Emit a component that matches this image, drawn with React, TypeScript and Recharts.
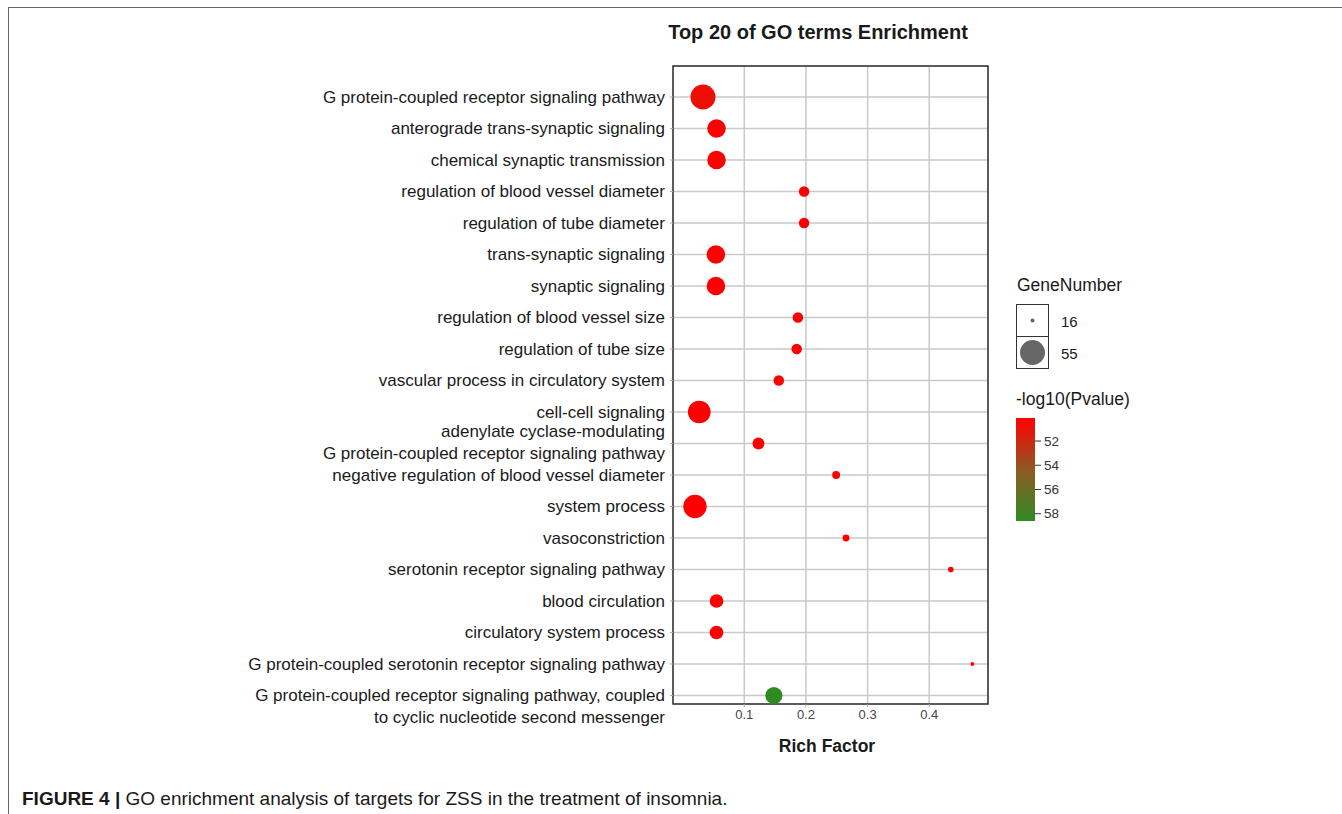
import React from 'react';
import {
  CartesianGrid,
  Cell,
  ReferenceArea,
  Scatter,
  ScatterChart,
  XAxis,
  YAxis,
  ZAxis,
} from 'recharts';

const terms: string[] = [
  'G protein-coupled receptor signaling pathway',
  'anterograde trans-synaptic signaling',
  'chemical synaptic transmission',
  'regulation of blood vessel diameter',
  'regulation of tube diameter',
  'trans-synaptic signaling',
  'synaptic signaling',
  'regulation of blood vessel size',
  'regulation of tube size',
  'vascular process in circulatory system',
  'cell-cell signaling',
  'adenylate cyclase-modulating\nG protein-coupled receptor signaling pathway',
  'negative regulation of blood vessel diameter',
  'system process',
  'vasoconstriction',
  'serotonin receptor signaling pathway',
  'blood circulation',
  'circulatory system process',
  'G protein-coupled serotonin receptor signaling pathway',
  'G protein-coupled receptor signaling pathway, coupled\nto cyclic nucleotide second messenger',
];

const richFactor: number[] = [
  0.033, 0.055, 0.055, 0.197, 0.197, 0.054, 0.054, 0.187, 0.185, 0.156,
  0.027, 0.123, 0.249, 0.02, 0.265, 0.435, 0.055, 0.055, 0.47, 0.148,
];

const geneNumber: number[] = [
  55, 37, 37, 22, 22, 37, 37, 22, 22, 22, 48, 24, 19, 50, 18, 17, 27, 27, 16, 34,
];

const negLog10P: number[] = [
  50.8, 50.1, 50.1, 50.1, 50.1, 50.1, 50.1, 50.1, 50.1, 50.1,
  50.1, 50.1, 50.1, 50.1, 50.1, 50.1, 50.1, 50.1, 50.1, 58.6,
];

const xTicks = [0.1, 0.2, 0.3, 0.4];
const colorTicks = [52, 54, 56, 58];
const sizeBreaks = [16, 55];

const X_DOMAIN: [number, number] = [-0.0156, 0.4953];
const Y_DOMAIN: [number, number] = [-0.985, 19.27];
const P_MIN = 50.1;
const P_MAX = 58.6;
const SIZE_RANGE: [number, number] = [Math.PI * 2 * 2, Math.PI * 12.5 * 12.5];

const FONT = '"Liberation Sans", Arial, Helvetica, sans-serif';

// red -> brown -> forest green, close to ggplot's lab interpolation
const stops: [number, number, number][] = [
  [255, 0, 0],
  [143, 88, 35],
  [46, 139, 34],
];

function pColor(v: number): string {
  const t = Math.min(1, Math.max(0, (v - P_MIN) / (P_MAX - P_MIN)));
  const seg = t < 0.5 ? 0 : 1;
  const lt = t < 0.5 ? t / 0.5 : (t - 0.5) / 0.5;
  const a = stops[seg];
  const b = stops[seg + 1];
  const c = a.map((ch, i) => Math.round(ch + (b[i] - ch) * lt));
  return `rgb(${c[0]},${c[1]},${c[2]})`;
}

function sizeRadius(n: number): number {
  const area =
    SIZE_RANGE[0] +
    ((n - sizeBreaks[0]) / (sizeBreaks[1] - sizeBreaks[0])) * (SIZE_RANGE[1] - SIZE_RANGE[0]);
  return Math.sqrt(area / Math.PI);
}

const data = terms.map((term, i) => ({
  term,
  rank: i,
  rich: richFactor[i],
  genes: geneNumber[i],
  p: negLog10P[i],
}));

function TermTick(props: any): JSX.Element {
  const { x, y, payload } = props;
  const idx = payload.value as number;
  const lines = (terms[idx] ?? '').split('\n');
  const last = idx === terms.length - 1;
  const start = lines.length === 1 ? 0 : last ? 0 : -12;
  return (
    <g>
      {lines.map((line, k) => (
        <text
          key={k}
          x={x}
          y={y + start + k * 21.5}
          dy="0.35em"
          textAnchor="end"
          fontSize={17}
          fontFamily={FONT}
          fill="#1a1a1a"
        >
          {line}
        </text>
      ))}
    </g>
  );
}

export default function App(): JSX.Element {
  return (
    <div style={{ position: 'relative', width: 1342, height: 814, background: '#fff', fontFamily: FONT }}>
      <style>{'body{margin:0}'}</style>
      <div
        style={{
          position: 'absolute',
          left: 8,
          top: 7,
          width: 1334,
          height: 807,
          borderTop: '1.5px solid #666',
          borderLeft: '1.5px solid #666',
          boxSizing: 'border-box',
        }}
      />
      <div
        style={{
          position: 'absolute',
          left: 618,
          width: 400,
          top: 21,
          textAlign: 'center',
          fontSize: 20,
          fontWeight: 'bold',
          color: '#1a1a1a',
        }}
      >
        Top 20 of GO terms Enrichment
      </div>

      <div style={{ position: 'absolute', left: 0, top: 0 }}>
        <ScatterChart
          width={1342}
          height={814}
          margin={{ top: 66, right: 354, bottom: 80, left: 273 }}
        >
          <CartesianGrid stroke="#c9c9c9" strokeWidth={1.5} />
          <XAxis
            type="number"
            dataKey="rich"
            domain={X_DOMAIN}
            ticks={xTicks}
            allowDataOverflow
            height={30}
            axisLine={false}
            tickLine={{ stroke: '#aaa' }}
            tickSize={3}
            tickMargin={3}
            tick={{ fontSize: 13, fill: '#444', fontFamily: FONT }}
          />
          <YAxis
            type="number"
            dataKey="rank"
            reversed
            domain={Y_DOMAIN}
            ticks={terms.map((_, i) => i)}
            interval={0}
            allowDataOverflow
            width={400}
            axisLine={false}
            tickLine={{ stroke: '#aaa' }}
            tickSize={3}
            tickMargin={5}
            tick={<TermTick />}
          />
          <ZAxis type="number" dataKey="genes" domain={sizeBreaks} range={SIZE_RANGE} />
          <ReferenceArea
            x1={X_DOMAIN[0]}
            x2={X_DOMAIN[1]}
            y1={Y_DOMAIN[0]}
            y2={Y_DOMAIN[1]}
            fill="none"
            stroke="#333"
            strokeWidth={1.5}
          />
          <Scatter data={data} isAnimationActive={false}>
            {data.map((d, i) => (
              <Cell key={i} fill={pColor(d.p)} />
            ))}
          </Scatter>
        </ScatterChart>
      </div>

      <div
        style={{
          position: 'absolute',
          left: 727,
          width: 200,
          top: 736,
          textAlign: 'center',
          fontSize: 17.5,
          fontWeight: 'bold',
          color: '#1a1a1a',
        }}
      >
        Rich Factor
      </div>

      {/* size legend */}
      <div style={{ position: 'absolute', left: 1017, top: 275, fontSize: 17.5, color: '#1a1a1a' }}>
        GeneNumber
      </div>
      <svg style={{ position: 'absolute', left: 1010, top: 300 }} width={80} height={76}>
        {sizeBreaks.map((b, i) => (
          <g key={b}>
            <rect x={6.5} y={4.5 + i * 32} width={32} height={32} fill="#fff" stroke="#333" strokeWidth={1} />
            <circle cx={22.5} cy={20.5 + i * 32} r={sizeRadius(b)} fill="#666" />
            <text x={51} y={21.5 + i * 32} dy="0.35em" fontSize={15} fontFamily={FONT} fill="#1a1a1a">
              {b}
            </text>
          </g>
        ))}
      </svg>

      {/* colour legend */}
      <div style={{ position: 'absolute', left: 1016, top: 389, fontSize: 17.5, color: '#1a1a1a' }}>
        -log10(Pvalue)
      </div>
      <svg style={{ position: 'absolute', left: 1010, top: 412 }} width={80} height={120}>
        <defs>
          <linearGradient id="pgrad" x1="0" y1="0" x2="0" y2="1">
            {[0, 0.25, 0.5, 0.75, 1].map((t) => (
              <stop key={t} offset={t} stopColor={pColor(P_MIN + t * (P_MAX - P_MIN))} />
            ))}
          </linearGradient>
        </defs>
        <rect x={6} y={6} width={19} height={103} fill="url(#pgrad)" />
        {colorTicks.map((v) => {
          const y = 6 + ((v - P_MIN) / (P_MAX - P_MIN)) * 103;
          return (
            <g key={v}>
              <line x1={25} x2={31} y1={y} y2={y} stroke="#333" strokeWidth={1} />
              <text x={34} y={y} dy="0.35em" fontSize={13.5} fontFamily={FONT} fill="#333">
                {v}
              </text>
            </g>
          );
        })}
      </svg>

      <div style={{ position: 'absolute', left: 22, top: 788, fontSize: 19, color: '#1a1a1a' }}>
        <b>FIGURE 4 |</b> GO enrichment analysis of targets for ZSS in the treatment of insomnia.
      </div>
    </div>
  );
}
